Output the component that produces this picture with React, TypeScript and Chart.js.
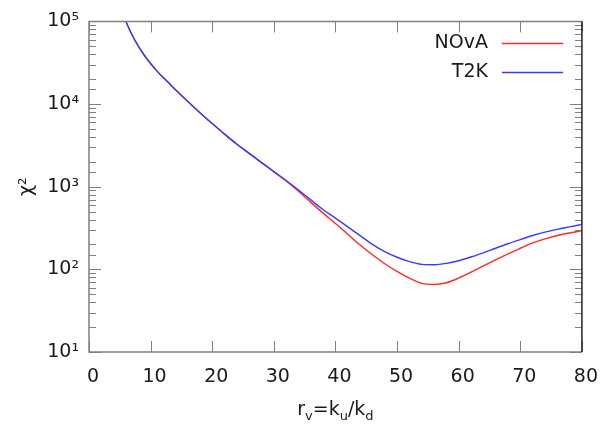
import React, { useEffect, useRef } from 'react';
import { Chart, registerables } from 'chart.js';

Chart.register(...registerables);

// ---- data ----
const rValues = [5, 6, 7, 8, 9, 10, 11, 12, 13, 14, 16, 18, 20, 22, 24, 26, 28, 30, 32, 34, 36, 38, 40, 42, 44, 46, 48, 50, 52, 54, 56, 58, 60, 62, 64, 66, 68, 70, 72, 74, 76, 78, 80];
const novaChi2 = [158000, 100000, 68400, 50100, 38700, 30900, 25200, 21100, 17800, 15000, 10800, 7870, 5810, 4325, 3266, 2529, 1959, 1524, 1170, 881, 646, 479, 359, 266, 197, 150, 117, 94.4, 78.2, 67.6, 65.8, 68.9, 78.5, 92.3, 110, 130, 154, 180, 209, 234, 257, 275, 294];
const t2kChi2 = [158000, 100000, 68400, 50100, 38700, 30900, 25200, 21100, 17800, 15000, 10800, 7870, 5810, 4325, 3266, 2529, 1959, 1524, 1189, 912, 692, 527, 417, 326, 256, 201, 164, 140, 124, 115, 113.8, 118, 127, 141, 158, 180, 204, 229, 257, 282, 305, 327, 350];
const seriesLabels = ['NOvA', 'T2K'];
const seriesColors = ['#ff2a2a', '#3a3aff'];
const xTickValues = [0, 10, 20, 30, 40, 50, 60, 70, 80];
const yMin = 10;
const yMax = 100000;
const superscripts = ['⁰', '¹', '²', '³', '⁴', '⁵', '⁶'];

const FONT = 'DejaVu Sans';
const TEXT_COLOR = '#1a1a1a';
const AXIS_GRAY = '#808080';

const framePlugin = {
  id: 'gnuFrame',
  afterDatasetsDraw(chart: any) {
    const { ctx, chartArea } = chart;
    const { left, right, top, bottom } = chartArea;
    const xs = chart.scales.x;
    const ys = chart.scales.y;
    ctx.save();
    ctx.lineWidth = 1;
    ctx.strokeStyle = AXIS_GRAY;
    // x ticks (bottom + mirrored top)
    xTickValues.forEach((v) => {
      const px = Math.round(xs.getPixelForValue(v)) + 0.5;
      ctx.beginPath();
      ctx.moveTo(px, bottom);
      ctx.lineTo(px, bottom - 11);
      ctx.moveTo(px, top);
      ctx.lineTo(px, top + 11);
      ctx.stroke();
    });
    // y ticks (log major + minor, left + mirrored right)
    ys.ticks.forEach((t: any) => {
      const v = t.value;
      const p = Math.log10(v);
      const major = Math.abs(p - Math.round(p)) < 1e-9;
      const len = major ? 12 : 7;
      const py = Math.round(ys.getPixelForValue(v)) + 0.5;
      ctx.beginPath();
      ctx.moveTo(left, py);
      ctx.lineTo(left + len, py);
      ctx.moveTo(right, py);
      ctx.lineTo(right - len, py);
      ctx.stroke();
    });
    // border
    ctx.lineWidth = 1.5;
    ctx.strokeStyle = AXIS_GRAY;
    ctx.beginPath();
    ctx.moveTo(right, top);
    ctx.lineTo(left, top);
    ctx.lineTo(left, bottom);
    ctx.lineTo(right, bottom);
    ctx.stroke();
    ctx.strokeStyle = '#222';
    ctx.beginPath();
    ctx.moveTo(right, top);
    ctx.lineTo(right, bottom);
    ctx.stroke();

    // legend (gnuplot style: right-aligned text, then line sample)
    ctx.font = `19px "${FONT}"`;
    ctx.textAlign = 'right';
    ctx.textBaseline = 'middle';
    chart.data.datasets.forEach((ds: any, i: number) => {
      const y = 43 + i * 29;
      ctx.fillStyle = TEXT_COLOR;
      ctx.fillText(ds.label, 488, y);
      ctx.strokeStyle = ds.borderColor;
      ctx.lineWidth = 1.3;
      ctx.beginPath();
      ctx.moveTo(502, y + 0.5);
      ctx.lineTo(563, y + 0.5);
      ctx.stroke();
    });

    // x axis title with subscripts: r_v=k_u/k_d
    const parts: [string, boolean][] = [['r', false], ['v', true], ['=k', false], ['u', true], ['/k', false], ['d', true]];
    const mainFont = `19px "${FONT}"`;
    const subFont = `13px "${FONT}"`;
    let total = 0;
    parts.forEach(([s, sub]) => {
      ctx.font = sub ? subFont : mainFont;
      total += ctx.measureText(s).width;
    });
    let x = (left + right) / 2 - total / 2;
    const baseY = 415;
    ctx.textAlign = 'left';
    ctx.textBaseline = 'alphabetic';
    ctx.fillStyle = TEXT_COLOR;
    parts.forEach(([s, sub]) => {
      ctx.font = sub ? subFont : mainFont;
      ctx.fillText(s, x, sub ? baseY + 5 : baseY);
      x += ctx.measureText(s).width;
    });
    ctx.restore();
  },
};

export default function App() {
  const canvasRef = useRef<HTMLCanvasElement | null>(null);

  useEffect(() => {
    document.body.style.margin = '0';
    const canvas = canvasRef.current;
    if (!canvas) return;
    const chart = new Chart(canvas, {
      type: 'line',
      data: {
        datasets: [
          {
            label: seriesLabels[0],
            data: rValues.map((r, i) => ({ x: r, y: novaChi2[i] })),
            borderColor: seriesColors[0],
            borderWidth: 1.4,
            pointRadius: 0,
            cubicInterpolationMode: 'monotone',
            fill: false,
            order: 1,
          },
          {
            label: seriesLabels[1],
            data: rValues.map((r, i) => ({ x: r, y: t2kChi2[i] })),
            borderColor: seriesColors[1],
            borderWidth: 1.4,
            pointRadius: 0,
            cubicInterpolationMode: 'monotone',
            fill: false,
            order: 0,
          },
        ],
      },
      options: {
        animation: false,
        responsive: false,
        devicePixelRatio: 1,
        layout: { padding: { top: 17, right: 20, left: 0, bottom: 0 } },
        plugins: {
          legend: { display: false },
          tooltip: { enabled: false },
        },
        scales: {
          x: {
            type: 'linear',
            min: 0,
            max: 80,
            afterFit: (s: any) => {
              s.height = 74;
            },
            grid: { display: false, drawTicks: false },
            border: { display: false },
            ticks: {
              stepSize: 10,
              padding: 14,
              labelOffset: 4,
              autoSkip: false,
              maxRotation: 0,
              color: TEXT_COLOR,
              font: { family: FONT, size: 19 },
            },
          },
          y: {
            type: 'logarithmic',
            min: yMin,
            max: yMax,
            afterFit: (s: any) => {
              s.width = 89;
            },
            grid: { display: false, drawTicks: false },
            border: { display: false },
            ticks: {
              autoSkip: false,
              padding: 10,
              color: TEXT_COLOR,
              font: { family: FONT, size: 19 },
              callback: (v: any) => {
                const p = Math.log10(Number(v));
                const rp = Math.round(p);
                return Math.abs(p - rp) < 1e-9 ? '10' + superscripts[rp] : '';
              },
            },
            title: {
              display: true,
              text: 'χ²',
              color: TEXT_COLOR,
              font: { family: FONT, size: 19 },
              padding: { top: 16, bottom: 0 },
            },
          },
        },
      },
      plugins: [framePlugin],
    } as any);
    return () => chart.destroy();
  }, []);

  return (
    <div style={{ width: 608, height: 426, background: '#fff' }}>
      <canvas ref={canvasRef} width={608} height={426} />
    </div>
  );
}
